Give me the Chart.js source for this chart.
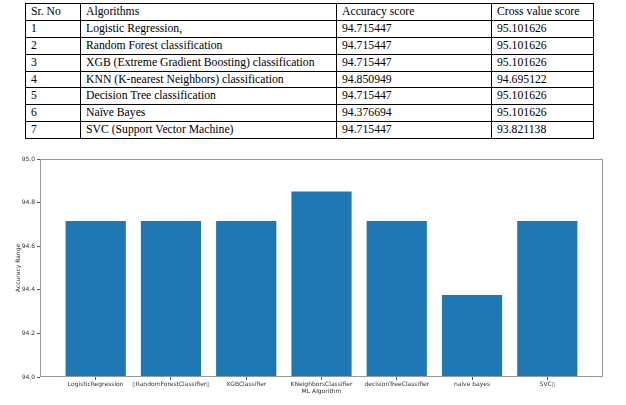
<!DOCTYPE html>
<html>
<head>
<meta charset="utf-8">
<script src="https://cdn.jsdelivr.net/npm/chart.js@4/dist/chart.umd.min.js"></script>
<style>
  body { margin: 0; background: #fff; width: 626px; height: 405px; position: relative; overflow: hidden; }
  table { position: absolute; left: 25px; top: 3px; width: 568px; border-collapse: collapse;
    font-family: "Liberation Serif", "Times New Roman", "DejaVu Serif", serif; font-size: 11.7px; color: #000; table-layout: fixed; }
  td { border: 1px solid #000; height: 15.9px; padding: 0 0 0 5px; line-height: 14px; white-space: nowrap; }
  #wrap { position: absolute; left: 0; top: 150px; width: 626px; height: 255px; }
</style>
</head>
<body>
<table id="tbl">
  <colgroup><col style="width:55px"><col style="width:256px"><col style="width:155px"><col style="width:102px"></colgroup>
  <tbody></tbody>
</table>
<div id="wrap"><canvas id="chart"></canvas></div>
<script>
// таблиця з результатами
const headers = ['Sr. No', 'Algorithms', 'Accuracy score', 'Cross value score'];
const algoNames = ['Logistic Regression,', 'Random Forest classification', 'XGB (Extreme Gradient Boosting) classification',
  'KNN (K-nearest Neighbors) classification', 'Decision Tree classification', 'Naïve Bayes', 'SVC (Support Vector Machine)'];
const accuracyText = ['94.715447', '94.715447', '94.715447', '94.850949', '94.715447', '94.376694', '94.715447'];
const crossText = ['95.101626', '95.101626', '95.101626', '94.695122', '95.101626', '95.101626', '93.821138'];

// дані графіка
const labels = ['LogisticRegression', '\u25AFRandomForestClassifier\u25AF', 'XGBClassifier', 'KNeighborsClassifier',
  'decisionTreeClassifier', 'naive bayes', 'SVC\u25AF'];
const accuracy = [94.715447, 94.715447, 94.715447, 94.850949, 94.715447, 94.376694, 94.715447];
const yTicks = [94.0, 94.2, 94.4, 94.6, 94.8, 95.0];

const tbody = document.querySelector('#tbl tbody');
const head = document.createElement('tr');
head.innerHTML = headers.map(h => `<td>${h}</td>`).join('');
tbody.appendChild(head);
algoNames.forEach((name, i) => {
  const row = document.createElement('tr');
  row.innerHTML = `<td>${i + 1}</td><td>${name}</td><td>${accuracyText[i]}</td><td>${crossText[i]}</td>`;
  tbody.appendChild(row);
});

// рамка навколо області графіка
const frame = {
  id: 'frame',
  afterDraw(chart) {
    const { ctx, chartArea: a } = chart;
    ctx.save();
    ctx.strokeStyle = '#999';
    ctx.lineWidth = 1;
    ctx.strokeRect(a.left + 0.5, a.top + 0.5, a.right - a.left - 1, a.bottom - a.top - 1);
    ctx.restore();
  }
};

const tickFont = { family: 'DejaVu Sans', size: 6 };
new Chart(document.getElementById('chart'), {
  type: 'bar',
  data: {
    datasets: [{
      data: accuracy.map((v, i) => ({ x: i, y: v })),
      backgroundColor: '#1f77b4',
      borderWidth: 0,
      barPercentage: 0.8,
      categoryPercentage: 1
    }]
  },
  options: {
    responsive: true,
    maintainAspectRatio: false,
    animation: false,
    layout: { padding: { top: 9, right: 23, left: 15, bottom: 10 } },
    plugins: { legend: { display: false }, tooltip: { enabled: false } },
    scales: {
      x: {
        type: 'linear',
        offset: false,
        min: -0.74,
        max: 6.74,
        afterBuildTicks: s => { s.ticks = labels.map((_, i) => ({ value: i })); },
        afterFit: s => { s.height = 18; },
        grid: { drawOnChartArea: false, drawTicks: true, tickLength: 3, color: '#555', offset: false },
        border: { display: false },
        ticks: { font: tickFont, color: '#333', padding: 1, maxRotation: 0, autoSkip: false,
          callback: v => labels[v] },
        title: { display: true, text: 'ML Algorithm', font: tickFont, color: '#333', padding: 0 }
      },
      y: {
        min: 94.0,
        max: 95.0,
        afterBuildTicks: s => { s.ticks = yTicks.map(v => ({ value: v })); },
        afterFit: s => { s.width = 25; },
        grid: { drawOnChartArea: false, drawTicks: true, tickLength: 3, color: '#555' },
        border: { display: false },
        ticks: { font: tickFont, color: '#333', padding: 2, callback: v => v.toFixed(1) },
        title: { display: true, text: 'Accuracy Range', font: tickFont, color: '#333', padding: 0 }
      }
    }
  },
  plugins: [frame]
});
</script>
</body>
</html>
